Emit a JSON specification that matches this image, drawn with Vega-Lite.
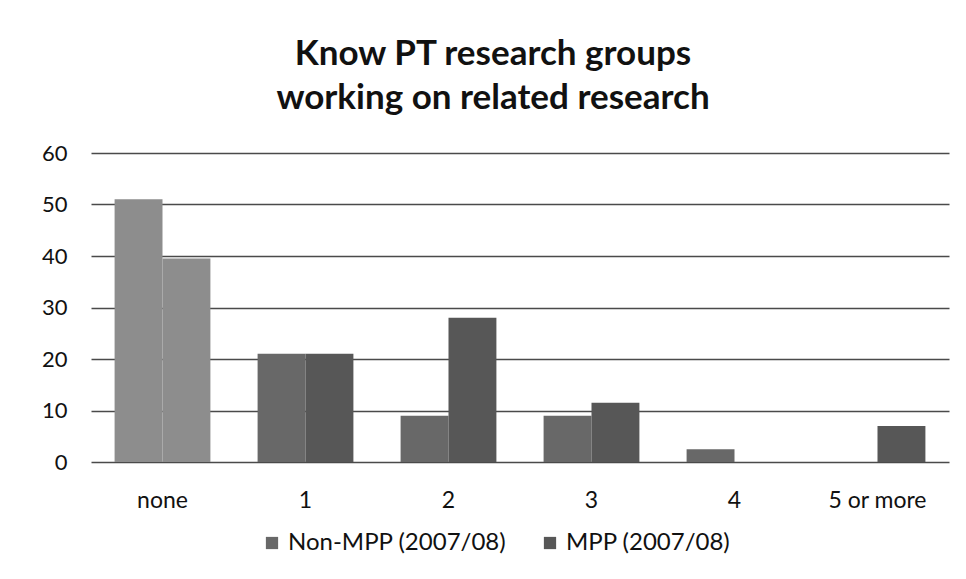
{
  "$schema": "https://vega.github.io/schema/vega-lite/v6.json",
  "autosize": "none",
  "width": 858,
  "height": 309,
  "padding": {"left": 91, "top": 153, "right": 17, "bottom": 117},
  "background": "white",
  "title": {
    "text": ["Know PT research groups", "working on related research"],
    "font": "Lato",
    "fontSize": 35,
    "fontWeight": "bold",
    "color": "#111111",
    "anchor": "middle",
    "dx": -27,
    "offset": 26,
    "lineHeight": 44
  },
  "data": {
    "values": [
      {"category": "none", "series": "Non-MPP (2007/08)", "value": 51},
      {"category": "none", "series": "MPP (2007/08)", "value": 39.5},
      {"category": "1", "series": "Non-MPP (2007/08)", "value": 21},
      {"category": "1", "series": "MPP (2007/08)", "value": 21},
      {"category": "2", "series": "Non-MPP (2007/08)", "value": 9},
      {"category": "2", "series": "MPP (2007/08)", "value": 28},
      {"category": "3", "series": "Non-MPP (2007/08)", "value": 9},
      {"category": "3", "series": "MPP (2007/08)", "value": 11.5},
      {"category": "4", "series": "Non-MPP (2007/08)", "value": 2.5},
      {"category": "4", "series": "MPP (2007/08)", "value": 0},
      {"category": "5 or more", "series": "Non-MPP (2007/08)", "value": 0},
      {"category": "5 or more", "series": "MPP (2007/08)", "value": 7}
    ]
  },
  "mark": {"type": "bar"},
  "encoding": {
    "x": {
      "field": "category",
      "type": "nominal",
      "sort": ["none", "1", "2", "3", "4", "5 or more"],
      "scale": {"paddingInner": 0.33, "paddingOuter": 0.165},
      "axis": {
        "title": null,
        "labelAngle": 0,
        "labelFont": "Lato",
        "labelFontSize": 23,
        "labelColor": "#111111",
        "labelPadding": 27,
        "ticks": false,
        "domain": false,
        "grid": false
      }
    },
    "xOffset": {
      "field": "series",
      "type": "nominal",
      "sort": ["Non-MPP (2007/08)", "MPP (2007/08)"],
      "scale": {"paddingInner": 0, "paddingOuter": 0}
    },
    "y": {
      "field": "value",
      "type": "quantitative",
      "scale": {"domain": [0, 60]},
      "axis": {
        "title": null,
        "values": [0, 10, 20, 30, 40, 50, 60],
        "labelFont": "Lato",
        "labelFontSize": 22,
        "labelColor": "#111111",
        "labelPadding": 24,
        "ticks": false,
        "domain": false,
        "grid": true,
        "gridColor": "#4a4a4a",
        "gridWidth": 1.6,
        "gridOpacity": 1
      }
    },
    "color": {
      "condition": {"test": "datum.category === 'none'", "value": "#8d8d8d"},
      "field": "series",
      "type": "nominal",
      "sort": ["Non-MPP (2007/08)", "MPP (2007/08)"],
      "scale": {"range": ["#686868", "#575757"]},
      "legend": {
        "title": null,
        "orient": "none",
        "direction": "horizontal",
        "legendX": 169,
        "legendY": 378,
        "symbolType": "square",
        "symbolSize": 150,
        "symbolStrokeWidth": 0,
        "symbolOpacity": 1,
        "labelFont": "Lato",
        "labelFontSize": 24,
        "labelLimit": 0,
        "labelColor": "#111111",
        "labelOffset": 4,
        "columnPadding": 31
      }
    }
  },
  "config": {
    "view": {"stroke": null}
  }
}
